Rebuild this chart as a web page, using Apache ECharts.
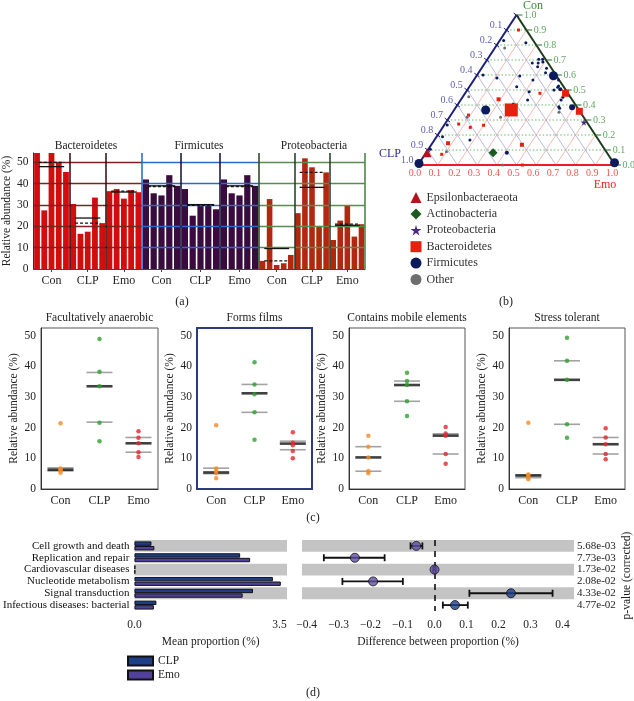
<!DOCTYPE html>
<html>
<head>
<meta charset="utf-8">
<script src="https://cdn.jsdelivr.net/npm/echarts@6.0.0/dist/echarts.min.js"></script>
<style>html,body{margin:0;padding:0;background:#fff;}#chart{width:634px;height:701px;}</style>
</head>
<body>
<div id="chart"></div>
<script>
// ================= DATA =================
// Panel (a)
const groupsA = ['Con', 'CLP', 'Emo'];
const phylaA = ['Bacteroidetes', 'Firmicutes', 'Proteobacteria'];
const bacteroidetesVals = [58, 27.5, 58, 50, 45.5, 30.5, 16.5, 17.5, 33.5, 21.5, 36.5, 37.5, 33, 37, 36];
const firmicutesVals = [42, 35.5, 34.5, 44, 39, 37.5, 25, 30, 30, 28, 42, 35.5, 34.5, 44, 39];
const proteobacteriaVals = [3.8, 32.8, 1.9, 2.7, 6.6, 26.2, 51.9, 47.7, 20.2, 45.3, 13.6, 22.7, 30, 15.2, 21];
const bacteroidetesMean = [48, 23.9, 36.1];
const bacteroidetesMedian = [50, 21.5, 36.5];
const firmicutesMean = [39, 30.2, 39];
const firmicutesMedian = [38.7, 29.8, 38.7];
const proteobacteriaMean = [9.6, 38.3, 20.5];
const proteobacteriaMedian = [3.8, 45.3, 21];
const ticksA = [0, 10, 20, 30, 40, 50];

// Panel (b): ternary points [Con, Emo, size]; CLP = 1 - Con - Emo
const ternTicks = [0.1, 0.2, 0.3, 0.4, 0.5, 0.6, 0.7, 0.8, 0.9];
const ternLabels = [0, 0.1, 0.2, 0.3, 0.4, 0.5, 0.6, 0.7, 0.8, 0.9, 1.0];
const firmicutesPts = [[0.83,0.02,3],[0.815,0.14,3],[0.68,0.24,3],[0.705,0.26,3],[0.705,0.28,3],[0.687,0.29,3],[0.68,0.27,3],[0.655,0.28,3],[0.645,0.33,3],[0.615,0.34,3],[0.595,0.39,9],[0.567,0.43,3],[0.6,0.03,3],[0.58,0.11,3],[0.593,0.22,3],[0.567,0.30,3],[0.527,0.45,3],[0.518,0.45,3],[0.505,0.47,4],[0.522,0.24,3],[0.489,0.32,3],[0.5,0.44,3],[0.451,0.51,3],[0.433,0.51,3],[0.433,0.34,3],[0.407,0.28,3],[0.367,0.16,9],[0.389,0.52,3],[0.378,0.53,3],[0.385,0.59,6],[0.267,0.015,3],[0.189,0.03,3],[0.167,0.18,3],[0.082,0.41,4],[0.01,0.0,9],[0.015,0.99,9],[0.105,0.01,3]];
const bacteroidetesPts = [[0.9,0.06,3],[0.478,0.38,3],[0.438,0.19,4],[0.333,0.09,3],[0.273,0.07,3],[0.251,0.14,3],[0.265,0.20,3],[0.145,0.08,4],[0.135,0.46,4],[0.071,0.085,3],[0,0.53,3],[0.478,0.51,7],[0.358,0.64,7],[0.367,0.29,13]];
const otherPts = [[0.78,0.05,3],[0.455,0.03,3],[0.351,0.54,3],[0.318,0.26,3],[0.318,0.09,3],[0.089,0.10,3],[0,0.43,3]];
const epsilonPts = [[0.082,0.005,9]];
const actinoPts = [[0.082,0.34,9]];
const proteoPts = [[0.285,0.70,7]];

// Panel (c)
const groupsC = ['Con', 'CLP', 'Emo'];
const titlesC = ['Facultatively anaerobic', 'Forms films', 'Contains mobile elements', 'Stress tolerant'];
const c1Con = [21.4, 6.7, 6.4, 6.0, 5.3], c1CLP = [48.9, 38.2, 33.5, 21.6, 15.6], c1Emo = [18.8, 16.7, 14.9, 12.0, 10.4];
const c2Con = [20.8, 6.7, 5.9, 5.2, 3.5], c2CLP = [41.3, 34.1, 30.9, 25.0, 16.1], c2Emo = [18.5, 15.1, 14.3, 12.4, 10.0];
const c3Con = [17.4, 13.8, 10.3, 5.9, 5.1], c3CLP = [37.9, 35.2, 33.9, 28.6, 23.8], c3Emo = [20.2, 18.1, 17.4, 11.4, 8.2];
const c4Con = [21.6, 4.7, 4.6, 3.8, 3.2], c4CLP = [49.3, 41.8, 35.6, 21.1, 16.7], c4Emo = [19.8, 16.8, 14.6, 11.4, 9.7];
// [upper, centre, lower] per group
const c1Stats = [[6.9, 6.3, 5.9], [38.0, 33.5, 21.8], [16.8, 14.9, 12.0]];
const c2Stats = [[6.8, 5.4, 5.0], [34.1, 31.2, 25.0], [15.6, 14.8, 12.8]];
const c3Stats = [[13.8, 10.3, 5.8], [35.2, 33.9, 28.6], [18.0, 17.4, 11.4]];
const c4Stats = [[4.6, 4.4, 3.7], [41.8, 35.6, 21.1], [16.8, 14.6, 11.4]];
const ticksC = [0, 10, 20, 30, 40, 50];

// Panel (d)
const catsD = ['Cell growth and death', 'Replication and repair', 'Cardiovascular diseases', 'Nucleotide metabolism', 'Signal transduction', 'Infectious diseases: bacterial'];
const clpMean = [0.41, 2.55, 0.02, 3.34, 2.86, 0.53];
const emoMean = [0.48, 2.79, 0.02, 3.53, 2.61, 0.47];
const diffEst = [-0.057, -0.249, 0.0, -0.192, 0.239, 0.064];
const diffLo = [-0.075, -0.346, -0.004, -0.288, 0.109, 0.026];
const diffHi = [-0.038, -0.156, 0.004, -0.099, 0.369, 0.104];
const pVals = ['5.68e-03', '7.73e-03', '1.73e-02', '2.08e-02', '4.33e-02', '4.77e-02'];
const ticksDL = [0, 3.5];
const ticksDR = [-0.4, -0.3, -0.2, -0.1, 0, 0.1, 0.2, 0.3, 0.4];

// ================= CHART =================
const FF = '"Liberation Serif","Times New Roman",serif';
const chart = echarts.init(document.getElementById('chart'), null, {width: 634, height: 701});
const grid = [], xAxis = [], yAxis = [], series = [], graphic = [];
const txt = (t, x, y, size, color, extra) => graphic.push(Object.assign({type: 'text', x, y, silent: true,
  style: {text: t, fontSize: size, fontFamily: FF, fill: color || '#222', align: 'center', verticalAlign: 'middle'}}, extra || {}));

// ---------- Panel (a) ----------
const aCfg = [
  {vals: bacteroidetesVals, mean: bacteroidetesMean, med: bacteroidetesMedian, color: '#d30d0d', grid: {left: 30, width: 112}, barW: 5.8, gl: '#7d2222', sep: '#2e0a0a', lb: null, rb: null, title: 86},
  {vals: firmicutesVals, mean: firmicutesMean, med: firmicutesMedian, color: '#3a0b3e', grid: {left: 142, width: 117}, barW: 6.2, gl: '#2f68c6', sep: '#0e0e2e', lb: '#2f6fd2', rb: null, title: 199},
  {vals: proteobacteriaVals, mean: proteobacteriaMean, med: proteobacteriaMedian, color: '#b0290f', grid: {left: 259, width: 106}, barW: 5.6, gl: '#5a8c52', sep: '#1e3a1e', lb: '#2a4f2a', rb: '#4a8a4a', title: 314}
];
aCfg.forEach((c, i) => {
  grid.push({left: c.grid.left, width: c.grid.width, top: 153, height: 116});
  xAxis.push({gridIndex: i, type: 'value', min: 0, max: 15,
    axisLine: {show: true, lineStyle: {color: '#444', width: 1}},
    axisTick: {show: true, customValues: [2.5, 7.5, 12.5], length: 3, lineStyle: {color: '#444'}},
    axisLabel: {customValues: [2.5, 7.5, 12.5], formatter: v => groupsA[Math.round((v - 2.5) / 5)], fontFamily: FF, fontSize: 12, color: '#222', margin: 6},
    splitLine: {show: false}});
  yAxis.push({gridIndex: i, type: 'value', min: 0, max: 54.4,
    axisLine: {show: i === 0, lineStyle: {color: '#333'}}, axisTick: {show: false},
    axisLabel: {show: i === 0, customValues: ticksA, fontFamily: FF, fontSize: 11.5, color: '#222', margin: 5},
    splitLine: {show: false},
    name: i === 0 ? 'Relative abundance (%)' : '', nameLocation: 'middle', nameGap: 15,
    nameTextStyle: {fontFamily: FF, fontSize: 11.5, color: '#222'}});
  const ml = ticksA.filter(v => v > 0).map(v => ({yAxis: v, lineStyle: {color: c.gl, width: 1.3, type: 'solid'}}));
  ml.push({xAxis: 5, lineStyle: {color: c.sep, width: 1.5, type: 'solid'}});
  ml.push({xAxis: 10, lineStyle: {color: c.sep, width: 1.5, type: 'solid'}});
  if (c.lb) ml.push({xAxis: 0, lineStyle: {color: c.lb, width: 1.6, type: 'solid'}});
  if (c.rb) ml.push({xAxis: 15, lineStyle: {color: c.rb, width: 1.6, type: 'solid'}});
  series.push({type: 'bar', name: 'a-' + phylaA[i], xAxisIndex: i, yAxisIndex: i, barWidth: c.barW,
    data: c.vals.map((v, k) => [Math.floor(k / 5) * 5 + (k % 5) + 0.5, v]),
    itemStyle: {color: c.color}, markLine: {silent: true, symbol: ['none', 'none'], label: {show: false}, data: ml}});
  [[c.mean, null], [c.med, [3, 2]]].forEach(([arr, dash]) => {
    series.push({type: 'custom', xAxisIndex: i, yAxisIndex: i, z: 6,
      data: arr.map((v, g) => [g * 5 + 0.75, v, g * 5 + 4.25]),
      renderItem: (p, api) => {
        const a = api.coord([api.value(0), api.value(1)]), b = api.coord([api.value(2), api.value(1)]);
        return {type: 'line', shape: {x1: a[0], y1: a[1], x2: b[0], y2: b[1]}, style: {stroke: '#111', lineWidth: 1.3, lineDash: dash}};
      }});
  });
  txt(phylaA[i], c.title, 146, 11.5, '#222');
});

// ---------- Panel (b) ternary ----------
const tern = (con, emo) => [emo + 0.5 * con, con];
const BI = 3;
grid.push({left: 418, top: 15, width: 197, height: 150});
xAxis.push({gridIndex: BI, type: 'value', min: 0, max: 1, show: false});
yAxis.push({gridIndex: BI, type: 'value', min: 0, max: 1, show: false});
// straight segments drawn via custom series: data item = [x1, y1, x2, y2]
const segS = (segs, style, z) => ({type: 'custom', xAxisIndex: BI, yAxisIndex: BI, silent: true, z: z || 2,
  data: segs.map(s => [s[0][0], s[0][1], s[1][0], s[1][1]]),
  renderItem: (p, api) => {
    const a = api.coord([api.value(0), api.value(1)]), b = api.coord([api.value(2), api.value(3)]);
    return {type: 'line', shape: {x1: a[0], y1: a[1], x2: b[0], y2: b[1]}, style: Object.assign({fill: null}, style)};
  }});
series.push(segS(ternTicks.map(c => [tern(c, 0), tern(c, 1 - c)]), {stroke: '#6cb86c', lineWidth: 1, lineDash: [1.5, 2]}));
series.push(segS(ternTicks.map(e => [tern(0, e), tern(1 - e, e)]), {stroke: '#f4a6a6', lineWidth: 0.8}));
series.push(segS(ternTicks.map(p => [tern(0, 1 - p), tern(1 - p, 0)]), {stroke: '#a8a8d8', lineWidth: 0.8}));
series.push(segS([[tern(0, 0), tern(1, 0)]], {stroke: '#1c1f78', lineWidth: 2}, 4));
series.push(segS([[tern(1, 0), tern(0, 1)]], {stroke: '#1b3b1b', lineWidth: 2}, 4));
series.push(segS([[tern(0, 0), tern(0, 1)]], {stroke: '#ee1c24', lineWidth: 2}, 4));
series.push(segS(ternLabels.map(c => { const p = tern(c, 1 - c); return [p, [p[0] + 0.03, p[1]]]; }), {stroke: '#2d6b2d', lineWidth: 1}, 4));
series.push(segS(ternLabels.map(q => { const p = tern(1 - q, 0); return [[p[0] + 0.012, p[1] - 0.012], [p[0] - 0.014, p[1] + 0.012]]; }), {stroke: '#1c1f78', lineWidth: 1}, 4));
const tickLab = (data, pos, color, offset, dist) => ({type: 'scatter', xAxisIndex: BI, yAxisIndex: BI, silent: true, symbolSize: 1,
  itemStyle: {color: 'rgba(0,0,0,0)'}, data,
  label: {show: true, position: pos, distance: dist, offset, formatter: p => p.value[2].toFixed(1), fontFamily: FF, fontSize: 10, color}});
series.push(tickLab(ternLabels.map(c => [...tern(c, 1 - c), c]), 'right', '#3a8c3a', [0, 0], 7));
series.push(tickLab(ternLabels.filter(q => q > 0).map(q => [...tern(1 - q, 0), q]), 'left', '#3434a0', [0, -5], 4));
series.push(tickLab(ternLabels.map(e => [...tern(0, e), e]), 'bottom', '#f02828', [-3, 0], 3));
const starPath = 'path://M50,0 L61,35 L98,35 L68,57 L79,91 L50,70 L21,91 L32,57 L2,35 L39,35 Z';
const ptS = (name, pts, color, symbol) => ({type: 'scatter', name, xAxisIndex: BI, yAxisIndex: BI, symbol, z: 5,
  symbolSize: v => v[2], itemStyle: {color, opacity: 1}, data: pts.map(([c, e, s]) => [...tern(c, e), s])});
series.push(ptS('Other', otherPts, '#6e6e6e', 'circle'));
series.push(ptS('Firmicutes', firmicutesPts, '#0b1a5c', 'circle'));
series.push(ptS('Bacteroidetes', bacteroidetesPts, '#e5200e', 'rect'));
series.push(ptS('Epsilonbacteraeota', epsilonPts, '#b3141c', 'triangle'));
series.push(ptS('Actinobacteria', actinoPts, '#1c5a1f', 'diamond'));
series.push(ptS('Proteobacteria', proteoPts, '#4a2c85', starPath));
txt('Con', 533, 6, 12, '#3a8c3a');
txt('CLP', 390, 154, 12, '#2a2aa0');
txt('Emo', 605, 185, 12, '#ee2222');

// ---------- Panel (c) ----------
const cPanels = [[c1Con, c1CLP, c1Emo, c1Stats], [c2Con, c2CLP, c2Emo, c2Stats], [c3Con, c3CLP, c3Emo, c3Stats], [c4Con, c4CLP, c4Emo, c4Stats]];
const cGrid = [{left: 41, width: 117}, {left: 197, width: 115}, {left: 349, width: 116}, {left: 509, width: 116}];
const cColors = ['#f58a27', '#2ca02c', '#e3262d'];
cPanels.forEach((pn, k) => {
  const gi = 4 + k;
  const thick = k === 1;
  grid.push({left: cGrid[k].left, width: cGrid[k].width, top: 328, height: 161, show: true,
    borderColor: thick ? '#2d3a7c' : '#555', borderWidth: thick ? 2 : 1});
  xAxis.push({gridIndex: gi, type: 'category', data: groupsC,
    axisLine: {lineStyle: {color: thick ? '#2d3a7c' : '#333', width: thick ? 2 : 1}}, axisTick: {show: false},
    axisLabel: {fontFamily: FF, fontSize: 12, color: '#222', margin: 6, interval: 0}});
  yAxis.push({gridIndex: gi, type: 'value', min: 0, max: 52.5,
    axisLine: {show: true, lineStyle: {color: thick ? '#2d3a7c' : '#333', width: thick ? 2 : 1}}, axisTick: {show: false},
    axisLabel: {customValues: ticksC, fontFamily: FF, fontSize: 11.5, color: '#222', margin: 5},
    splitLine: {show: false},
    name: 'Relative abundance (%)', nameLocation: 'middle', nameGap: 21, nameTextStyle: {fontFamily: FF, fontSize: 11.5, color: '#222'}});
  const st = pn[3];
  series.push({type: 'scatter', xAxisIndex: gi, yAxisIndex: gi, symbol: 'rect', symbolSize: [26, 1.6], z: 3,
    itemStyle: {color: '#8c8c8c'}, data: st.flatMap((s, g) => [[g, s[0]], [g, s[2]]])});
  series.push({type: 'scatter', xAxisIndex: gi, yAxisIndex: gi, symbol: 'rect', symbolSize: [26, 2.6], z: 4,
    itemStyle: {color: '#111'}, data: st.map((s, g) => [g, s[1]])});
  [0, 1, 2].forEach(g => series.push({type: 'scatter', xAxisIndex: gi, yAxisIndex: gi, symbolSize: 4.5, z: 5,
    itemStyle: {color: cColors[g]}, data: pn[g].map(v => [g, v])}));
  txt(titlesC[k], cGrid[k].left + cGrid[k].width / 2, 318, 11.5, '#222');
});

// ---------- Panel (d) ----------
const DL = 8, DR = 9;
grid.push({left: 131, top: 540, width: 156, height: 71});
grid.push({left: 302, top: 540, width: 273, height: 71});
const bandArea = {show: true, interval: 0, areaStyle: {color: ['#c4c4c4', 'rgba(255,255,255,0)']}};
xAxis.push({gridIndex: DL, type: 'value', min: 0, max: 3.68, offset: 3,
  axisLine: {lineStyle: {color: '#111', width: 1.2}}, axisTick: {customValues: ticksDL, length: 4, lineStyle: {color: '#111'}},
  axisLabel: {customValues: ticksDL, formatter: v => v.toFixed(1), fontFamily: FF, fontSize: 11.5, color: '#222', margin: 5},
  splitLine: {show: false}, name: 'Mean proportion (%)', nameLocation: 'middle', nameGap: 22,
  nameTextStyle: {fontFamily: FF, fontSize: 11.5, color: '#222'}});
xAxis.push({gridIndex: DR, type: 'value', min: -0.4143, max: 0.436, offset: 3,
  axisLine: {lineStyle: {color: '#111', width: 1.2}}, axisTick: {customValues: ticksDR, length: 4, lineStyle: {color: '#111'}},
  axisLabel: {customValues: ticksDR, formatter: v => v.toFixed(1).replace('-', '\u2212'), fontFamily: FF, fontSize: 11.5, color: '#222', margin: 5},
  splitLine: {show: false}, name: 'Difference between proportion (%)', nameLocation: 'middle', nameGap: 22,
  nameTextStyle: {fontFamily: FF, fontSize: 11.5, color: '#222'}});
yAxis.push({gridIndex: DL, type: 'category', data: catsD, inverse: true,
  axisLine: {show: false}, axisTick: {show: false},
  axisLabel: {fontFamily: FF, fontSize: 11, color: '#111', margin: 5, interval: 0}, splitArea: bandArea});
yAxis.push({gridIndex: DR, type: 'category', data: pVals, inverse: true, position: 'right',
  axisLine: {show: false}, axisTick: {show: false},
  axisLabel: {fontFamily: FF, fontSize: 11, color: '#222', margin: 3, interval: 0}, splitArea: bandArea,
  name: 'p-value (corrected)', nameLocation: 'middle', nameGap: 47, nameTextStyle: {fontFamily: FF, fontSize: 11.5, color: '#222'}});
series.push({type: 'bar', name: 'CLP', xAxisIndex: DL, yAxisIndex: DL, data: clpMean, barWidth: 4.4, barGap: '4%',
  itemStyle: {color: '#1d3f87', borderColor: '#111', borderWidth: 1}});
series.push({type: 'bar', name: 'Emo', xAxisIndex: DL, yAxisIndex: DL, data: emoMean, barWidth: 4.4, barGap: '4%',
  itemStyle: {color: '#52419a', borderColor: '#111', borderWidth: 1}});
series.push({type: 'custom', xAxisIndex: DR, yAxisIndex: DR, z: 4,
  data: diffLo.map((lo, r) => [lo, r, diffHi[r]]),
  renderItem: (p, api) => {
    const a = api.coord([api.value(0), api.value(1)]), b = api.coord([api.value(2), api.value(1)]);
    const st = {stroke: '#111', lineWidth: 1.8};
    return {type: 'group', children: [
      {type: 'line', shape: {x1: a[0], y1: a[1], x2: b[0], y2: b[1]}, style: st},
      {type: 'line', shape: {x1: a[0], y1: a[1] - 3.5, x2: a[0], y2: a[1] + 3.5}, style: st},
      {type: 'line', shape: {x1: b[0], y1: b[1] - 3.5, x2: b[0], y2: b[1] + 3.5}, style: st}]};
  }});
series.push({type: 'scatter', xAxisIndex: DR, yAxisIndex: DR, symbolSize: 9, z: 6,
  data: diffEst.map((v, r) => ({value: [v, r], itemStyle: {color: v > 0.01 ? '#1d3f87' : '#5e4ea2'}})),
  itemStyle: {borderColor: '#111', borderWidth: 1},
  markLine: {silent: true, symbol: ['none', 'none'], label: {show: false},
    data: [{xAxis: 0, lineStyle: {color: '#111', width: 1.6, type: [6, 5]}}]}});

// panel tags
txt('(a)', 182, 302, 12, '#222');
txt('(b)', 506, 302, 12, '#222');
txt('(c)', 313, 518, 12, '#222');
txt('(d)', 313, 693, 12, '#222');

chart.setOption({
  animation: false,
  backgroundColor: '#fff',
  grid, xAxis, yAxis, series, graphic,
  legend: [
    {orient: 'vertical', left: 410.5, top: 191.5, padding: 0, itemWidth: 11, itemHeight: 11, itemGap: 4.4, selectedMode: false,
      textStyle: {fontFamily: FF, fontSize: 12, color: '#333'},
      data: [{name: 'Epsilonbacteraeota', icon: 'triangle'}, {name: 'Actinobacteria', icon: 'diamond'},
        {name: 'Proteobacteria', icon: starPath}, {name: 'Bacteroidetes', icon: 'rect'},
        {name: 'Firmicutes', icon: 'circle'}, {name: 'Other', icon: 'circle'}]},
    {orient: 'vertical', left: 127, top: 655, padding: 0, itemWidth: 25, itemHeight: 9, itemGap: 2, selectedMode: false,
      textStyle: {fontFamily: FF, fontSize: 11.5, color: '#222'},
      data: [{name: 'CLP', icon: 'rect'}, {name: 'Emo', icon: 'rect'}]}
  ]
});
</script>
</body>
</html>
